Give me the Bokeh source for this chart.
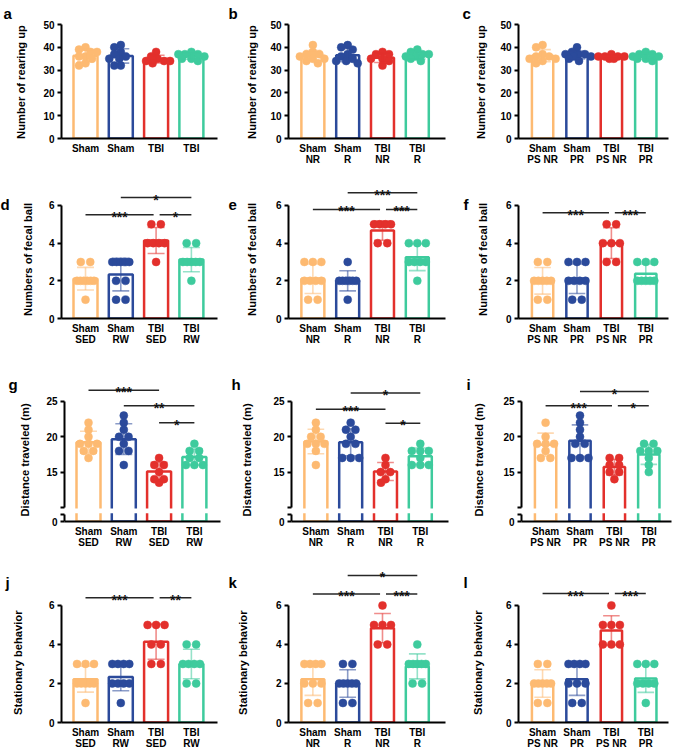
import numpy as np
from bokeh.plotting import figure
from bokeh.models import FixedTicker, Label
from bokeh.layouts import gridplot
from bokeh.embed import file_html
from bokeh.resources import INLINE
from bokeh.core.properties import value

FONT = "Liberation Sans"
COLORS = ["#FDBA72", "#2B4A9B", "#E3302C", "#3ECB9D"]

# ---------------- tick labels / titles ----------------
CATS_A = ["Sham", "Sham", "TBI", "TBI"]
CATS_SED = ["Sham\nSED", "Sham\nRW", "TBI\nSED", "TBI\nRW"]
CATS_NR = ["Sham\nNR", "Sham\nR", "TBI\nNR", "TBI\nR"]
CATS_PS = ["Sham\nPS NR", "Sham\nPR", "TBI\nPS NR", "TBI\nPR"]
Y_TITLES = ["Number of rearing up", "Numbers of fecal ball",
            "Distance traveled (m)", "Stationary behavior"]
Y_TICKS_REAR = [0, 10, 20, 30, 40, 50]
Y_TICKS_COUNT = [0, 2, 4, 6]
Y_TICKS_DIST = [0, 15, 20, 25]
DIST_BREAK = 10   # axis break: 0 | 10..25

# ---------------- data (one list per group) ----------------
rear_a = [[40, 39, 38, 38, 36, 36, 35, 33, 32],
          [41, 40, 38, 37, 36, 35, 35, 32, 32],
          [38, 36, 35, 34, 34, 34, 33],
          [38, 37, 37, 37, 36, 35, 35, 34]]
rear_b = [[41, 38, 37, 37, 36, 35, 35, 34, 33],
          [41, 40, 39, 37, 36, 35, 34, 34, 33],
          [38, 37, 37, 35, 35, 34, 32],
          [39, 38, 37, 37, 36, 36, 35, 34]]
rear_c = [[41, 40, 37, 36, 36, 35, 35, 34, 33],
          [40, 38, 37, 37, 37, 36, 36, 35, 34],
          [37, 36, 36, 36, 36, 35, 35],
          [38, 37, 37, 36, 36, 35, 35, 34]]
fecal_d = [[3, 3, 2, 2, 2, 2, 2, 2, 1],
           [3, 3, 3, 3, 3, 2, 2, 1, 1],
           [5, 5, 4, 4, 4, 4, 3],
           [4, 4, 3, 3, 3, 3, 3, 2]]
fecal_e = [[3, 3, 3, 2, 2, 2, 2, 1, 1],
           [3, 2, 2, 2, 2, 2, 2, 1],
           [5, 5, 5, 5, 4, 4],
           [4, 4, 4, 3, 3, 3, 3, 2]]
fecal_f = [[3, 3, 2, 2, 2, 2, 2, 1, 1],
           [3, 3, 3, 2, 2, 2, 2, 1, 1],
           [5, 5, 4, 4, 4, 3, 3],
           [3, 3, 3, 2, 2, 2, 2, 2]]
dist_g = [[22, 21, 20, 19, 19, 19, 18, 18, 17],
          [23, 22, 21, 20, 20, 19, 18, 18, 16],
          [17, 16, 16, 15, 14, 14, 13.5],
          [19, 18, 18, 17, 17, 16, 16, 16]]
dist_h = [[22, 21, 20, 20, 19, 19, 19, 18, 16],
          [22, 21, 21, 20, 19, 19, 17, 17, 17],
          [17, 16, 15, 15, 14, 13.5],
          [19, 18, 18, 18, 17, 16, 16, 16]]
dist_i = [[22, 20, 19, 19, 19, 18, 17, 17],
          [23, 22, 21, 20, 19, 19, 17, 17, 17],
          [17, 17, 16, 16, 15, 15, 14],
          [19, 19, 18, 18, 18, 17, 16, 15]]
stat_j = [[3, 3, 3, 2, 2, 2, 2, 2, 1],
          [3, 3, 3, 3, 2, 2, 2, 2, 1],
          [5, 5, 5, 4, 4, 3, 3],
          [4, 4, 3, 3, 3, 3, 2, 2]]
stat_k = [[3, 3, 3, 3, 2, 2, 2, 1, 1],
          [3, 3, 2, 2, 2, 2, 2, 1, 1],
          [6, 5, 5, 5, 4, 4],
          [4, 3, 3, 3, 3, 3, 2, 2]]
stat_l = [[3, 3, 2, 2, 2, 2, 2, 1, 1],
          [3, 3, 3, 3, 2, 2, 2, 1, 1],
          [6, 5, 5, 5, 4, 4, 4],
          [3, 3, 3, 2, 2, 2, 2, 1]]

# significance: (group i, group j, bracket level, label)
sig_d = [(0, 2, 5.5, "***"), (2, 3, 5.5, "*"), (1, 3, 6.42, "*")]
sig_e = [(0, 2, 5.79, "***"), (2, 3, 5.79, "***"), (1, 3, 6.67, "***")]
sig_f = [(0, 2, 5.61, "***"), (2, 3, 5.61, "***")]
sig_g = [(0, 2, 26.6, "***"), (1, 3, 24.4, "**"), (2, 3, 22.0, "*")]
sig_h = [(0, 2, 23.9, "***"), (1, 3, 26.2, "*"), (2, 3, 21.9, "*")]
sig_i = [(0, 2, 24.4, "***"), (2, 3, 24.4, "*"), (1, 3, 26.4, "*")]
sig_j = [(0, 2, 6.39, "***"), (2, 3, 6.39, "**")]
sig_k = [(0, 2, 6.58, "***"), (2, 3, 6.58, "***"), (1, 3, 7.54, "*")]
sig_l = [(0, 2, 6.61, "***"), (2, 3, 6.61, "***")]


def dist_tf(v):
    v = np.asarray(v, dtype=float)
    return np.where(v >= DIST_BREAK, v - (DIST_BREAK - 2), v)


def ident(v):
    return np.asarray(v, dtype=float)


# ---------------- layout (pixels) ----------------
COLS = [dict(ml=61, fw=156, mr=8, x0=-0.68, x1=3.74, bw=0.68, lx=[-58, -61, -56, -56]),
        dict(ml=63, fw=157, mr=5, x0=-0.70, x1=3.81, bw=0.66, lx=[-60, -60, -60, -60]),
        dict(ml=68, fw=150, mr=9, x0=-0.70, x1=3.66, bw=0.62, lx=[-56, -55, -55, -55])]
ROWS = [dict(mt=22, fh=116, mb=34, ytop=50.9, axis_top=50, ticks=Y_TICKS_REAR,
             base=13, title_so=[13.4, 9.4, 10.4], title_cy=81, tf=ident, dense=True),
        dict(mt=6, fh=140, mb=42, ytop=7.43, axis_top=6, ticks=Y_TICKS_COUNT,
             base=204, title_so=[11.9, 14.9, 13.9], title_cy=259, tf=ident, dense=False),
        dict(mt=16, fh=145, mb=34, ytop=20.54, axis_top=25, ticks=Y_TICKS_DIST,
             base=384, title_so=[12.4, 17.4, 15.4], title_cy=459, tf=dist_tf, dense=False,
             brk=True),
        dict(mt=7, fh=160, mb=28, ytop=8.2, axis_top=6, ticks=Y_TICKS_COUNT,
             base=582, title_so=[21.9, 23.9, 18.9], title_cy=663, tf=ident, dense=False)]
ROW_TOPS = [0, 172, 360, 555]
TITLE_PX = 11.2
NBSP_W = 0.2778 * TITLE_PX   # width of a no-break space in the title font


def swarm(vals_disp, pxy, pxx, dense):
    vals = np.asarray(vals_disp, dtype=float)
    xs = np.zeros(len(vals))
    placed = []
    cands = sorted(np.arange(-14, 14.01, 0.5), key=lambda c: (abs(c), c))

    def dmin(pts):
        if not placed:
            return 99.0
        return min(np.hypot(px - qx, py - qy) for (px, py) in pts for (qx, qy) in placed)

    if dense:
        for k in np.argsort(-vals, kind="stable"):
            y = vals[k] * pxy
            chosen, best = None, (-1.0, 0.0)
            for cx in cands:
                d = dmin([(cx, y)])
                if d >= 6.5:
                    chosen = cx
                    break
                if d > best[0]:
                    best = (d, cx)
            if chosen is None:
                chosen = best[1]
            xs[k] = chosen
            placed.append((chosen, y))
    else:
        for v in sorted(set(vals.tolist()), reverse=True):
            idx = np.where(vals == v)[0]
            m = len(idx)
            sp = min(9.5, 17.0 / (m - 1)) if m > 1 else 0.0
            base = (np.arange(m) - (m - 1) / 2.0) * sp
            y = v * pxy
            chosen, best = None, (-1.0, 0.0)
            for s in cands:
                d = dmin([(b + s, y) for b in base])
                if d >= 5.5:
                    chosen = s
                    break
                if d > best[0]:
                    best = (d, s)
            if chosen is None:
                chosen = best[1]
            for k, b in zip(idx, base):
                xs[k] = b + chosen
                placed.append((b + chosen, y))
    return xs / pxx


def sig_lines(sigs):
    out = []
    for (i, j, lv, lab) in sigs:
        a, b = float(i), float(j)
        for (i2, j2, lv2, _) in sigs:
            if lv2 == lv and (i2, j2) != (i, j):
                if j2 == i:
                    a += 0.1
                if i2 == j:
                    b -= 0.07
        out.append((a, b, lv, lab))
    return out


def panel(letter, data, cats, sigs, r, c):
    R, C = ROWS[r], COLS[c]
    tf = R["tf"]
    brk = R.get("brk", False)
    x0, x1 = C["x0"], C["x1"]
    pxx = C["fw"] / (x1 - x0)
    pxy = R["fh"] / R["ytop"]
    shift = 3 if brk else 0
    xr0 = x0 - shift / pxx
    p = figure(frame_width=C["fw"] + shift, frame_height=R["fh"],
               min_border_left=C["ml"] - shift, min_border_right=C["mr"],
               min_border_top=R["mt"], min_border_bottom=R["mb"],
               x_range=(xr0, x1), y_range=(0, R["ytop"]),
               output_backend="svg", toolbar_location=None, tools="")
    p.outline_line_color = None
    p.xgrid.visible = False
    p.ygrid.visible = False
    p.background_fill_color = "white"
    p.border_fill_color = "white"

    n = len(data)
    xs = list(range(n))
    means = np.array([np.mean(g) for g in data])
    sds = np.array([np.std(g, ddof=1) for g in data])

    p.vbar(x=xs, top=tf(means), bottom=0, width=C["bw"], fill_color="white",
           line_color=COLORS[:n], line_width=2.5)

    if brk:
        # broken axis: gap between the low stub and the 10..25 segment
        p.quad(left=[x0 + 1.5 / pxx], right=[x1], bottom=[1.17], top=[1.83],
               fill_color="white", line_color=None)
        p.segment(x0=[x0, x0], y0=[0, 2], x1=[x0, x0], y1=[1, float(tf(R["axis_top"]))],
                  line_color="black", line_width=2)

    dx, dy, dc = [], [], []
    for i, g in enumerate(data):
        gy = tf(g)
        off = swarm(gy, pxy, pxx, R["dense"])
        dx += list(i + off)
        dy += list(gy)
        dc += [COLORS[i]] * len(g)
    p.scatter(dx, dy, size=8, fill_color=dc, line_color=dc, line_width=0.5)

    lo = tf(means - sds)
    hi = tf(means + sds)
    cap = 0.24
    p.segment(x0=xs, y0=lo, x1=xs, y1=hi, line_color=COLORS[:n], line_alpha=0.55, line_width=1.6)
    p.segment(x0=[x - cap for x in xs], y0=hi, x1=[x + cap for x in xs], y1=hi,
              line_color=COLORS[:n], line_alpha=0.55, line_width=1.6)
    p.segment(x0=[x - cap for x in xs], y0=lo, x1=[x + cap for x in xs], y1=lo,
              line_color=COLORS[:n], line_alpha=0.55, line_width=1.6)

    if sigs:
        segs = sig_lines(sigs)
        lv = tf([s[2] for s in segs])
        p.segment(x0=[s[0] for s in segs], x1=[s[1] for s in segs], y0=lv, y1=lv,
                  line_color="#262626", line_width=1.5)
        p.text(x=[(s[0] + s[1]) / 2 for s in segs], y=lv, text=[s[3] for s in segs],
               text_align="center", text_baseline="alphabetic", text_font=value(FONT),
               text_font_style="bold", text_font_size="14px", text_color="#111111",
               y_offset=2)

    # axes
    xa, ya = p.xaxis[0], p.yaxis[0]
    for ax in (xa, ya):
        ax.axis_line_width = 2
        ax.axis_line_color = "black"
        ax.major_tick_line_width = 2
        ax.major_tick_line_color = "black"
        ax.minor_tick_line_color = None
        ax.major_label_text_font = FONT
        ax.major_label_text_font_style = "bold"
        ax.major_label_text_font_size = "10px"
        ax.major_label_text_color = "black"
    xa.ticker = FixedTicker(ticks=xs)
    xa.major_label_overrides = {i: cats[i] for i in xs}
    xa.major_tick_out = 0
    xa.major_tick_in = 0
    xa.major_label_standoff = 4
    xa.major_label_text_line_height = 1.05
    xa.bounds = (x0, x1)

    top_disp = float(tf(R["axis_top"]))
    ya.bounds = (0, top_disp)
    ya.major_label_standoff = 3
    if brk:
        disp = [int(round(float(tf(t)))) for t in R["ticks"]]
        caps = [1, 2]
        ya.ticker = FixedTicker(ticks=sorted(disp + caps))
        ov = {d: str(t) for d, t in zip(disp, R["ticks"])}
        ov.update({k: "" for k in caps})
        ya.major_label_overrides = ov
        ya.axis_line_color = None
        ya.major_tick_out = 1
        ya.major_tick_in = 3
    else:
        ya.ticker = FixedTicker(ticks=R["ticks"])
        ya.major_tick_out = 4
        ya.major_tick_in = 0

    # y title: Bokeh centres it on the frame, so pad its top end with no-break
    # spaces to centre the visible words on the drawn axis instead
    frame_top = ROW_TOPS[r] + R["mt"]
    frame_bottom = frame_top + R["fh"]
    down = R["title_cy"] - (frame_top + frame_bottom) / 2.0
    pad = max(0, int(round(2 * down / NBSP_W)))
    ya.axis_label = Y_TITLES[r] + "\u00a0" * pad
    ya.axis_label_text_font = FONT
    ya.axis_label_text_font_style = "bold"
    ya.axis_label_text_font_size = f"{TITLE_PX}px"
    ya.axis_label_text_color = "black"
    ya.axis_label_standoff = int(round(R["title_so"][c]))

    # panel letter, placed in the left side panel so that it is not clipped
    p.add_layout(Label(x=x0 + C["lx"][r] / pxx, y=(frame_bottom - R["base"]) / pxy,
                       text=letter, text_font=FONT, text_font_style="bold",
                       text_font_size="15px", text_align="left",
                       text_baseline="alphabetic", text_color="black"), "left")
    return p


grid = [
    [panel("a", rear_a, CATS_A, None, 0, 0),
     panel("b", rear_b, CATS_NR, None, 0, 1),
     panel("c", rear_c, CATS_PS, None, 0, 2)],
    [panel("d", fecal_d, CATS_SED, sig_d, 1, 0),
     panel("e", fecal_e, CATS_NR, sig_e, 1, 1),
     panel("f", fecal_f, CATS_PS, sig_f, 1, 2)],
    [panel("g", dist_g, CATS_SED, sig_g, 2, 0),
     panel("h", dist_h, CATS_NR, sig_h, 2, 1),
     panel("i", dist_i, CATS_PS, sig_i, 2, 2)],
    [panel("j", stat_j, CATS_SED, sig_j, 3, 0),
     panel("k", stat_k, CATS_NR, sig_k, 3, 1),
     panel("l", stat_l, CATS_PS, sig_l, 3, 2)],
]

p = gridplot(grid, toolbar_location=None)
open("out.html", "w").write(file_html(p, INLINE))
